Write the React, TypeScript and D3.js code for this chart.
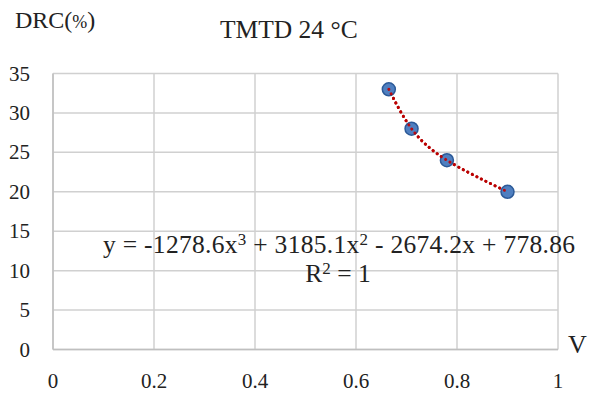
import React from "react";
import * as d3 from "d3";

const xValues = [0.665, 0.71, 0.78, 0.9];
const yValues = [33, 28, 24, 20];
const xTicks = [0, 0.2, 0.4, 0.6, 0.8, 1];
const yTicks = [0, 5, 10, 15, 20, 25, 30, 35];

const W = 598;
const H = 394;
const FONT = "Liberation Serif";

export default function App() {
  const x = d3.scaleLinear().domain([0, 1]).range([53, 558]);
  const y = d3.scaleLinear().domain([0, 35]).range([349.5, 73.5]);
  const pts = xValues.map((v, i) => [v, yValues[i]] as [number, number]);
  const line = d3
    .line<[number, number]>()
    .x((d) => x(d[0]))
    .y((d) => y(d[1]))
    .curve(d3.curveNatural);

  return (
    <svg width={W} height={H} style={{ position: "absolute", left: 0, top: 0, background: "#fff" }}>
      <rect width={W} height={H} fill="#fff" />
      {yTicks.map((t) => (
        <line key={"h" + t} x1={x(0)} x2={x(1)} y1={y(t)} y2={y(t)} stroke="#d0d0d0" strokeWidth={1.5} />
      ))}
      {xTicks.map((t) => (
        <line key={"v" + t} x1={x(t)} x2={x(t)} y1={y(0)} y2={y(35)} stroke="#d0d0d0" strokeWidth={1.5} />
      ))}
      <line x1={x(0)} x2={x(1)} y1={y(0)} y2={y(0)} stroke="#bfbfbf" strokeWidth={1.5} />
      <line x1={x(0)} x2={x(0)} y1={y(0)} y2={y(35)} stroke="#bfbfbf" strokeWidth={1.5} />
      {yTicks.map((t) => (
        <text key={"yl" + t} x={30} y={y(t) + 7} textAnchor="end" fontFamily={FONT} fontSize={21} fill="#222">
          {t}
        </text>
      ))}
      {xTicks.map((t) => (
        <text key={"xl" + t} x={x(t)} y={388} textAnchor="middle" fontFamily={FONT} fontSize={21} fill="#222">
          {t}
        </text>
      ))}
      <path d={line(pts) || ""} fill="none" stroke="#a00000" strokeWidth={3} strokeDasharray="0.1 5" strokeLinecap="round" />
      {pts.map((p, i) => (
        <circle key={"c" + i} cx={x(p[0])} cy={y(p[1])} r={6.5} fill="#4f7fc0" stroke="#2c5a98" strokeWidth={1.5} />
      ))}
      <path d={line(pts) || ""} fill="none" stroke="#c00000" strokeWidth={3} strokeDasharray="0.1 5" strokeLinecap="round" opacity={0.9} />
      <text x={15} y={28} fontFamily={FONT} fontSize={24} fill="#222">
        DRC(<tspan fontSize={18}>%</tspan>)
      </text>
      <text x={220} y={38} fontFamily={FONT} fontSize={25.5} fill="#222">
        TMTD 24 °C
      </text>
      <text x={568} y={353} fontFamily={FONT} fontSize={26} fill="#222">
        V
      </text>
      <text x={339} y={253} textAnchor="middle" fontFamily={FONT} fontSize={25.5} fill="#222" textLength={472} lengthAdjust="spacing">
        y = -1278.6x<tspan dy={-8} fontSize={17}>3</tspan>
        <tspan dy={8}> + 3185.1x</tspan>
        <tspan dy={-8} fontSize={17}>2</tspan>
        <tspan dy={8}> - 2674.2x + 778.86</tspan>
      </text>
      <text x={338} y={282} textAnchor="middle" fontFamily={FONT} fontSize={25.5} fill="#222">
        R<tspan dy={-8} fontSize={17}>2</tspan>
        <tspan dy={8}> = 1</tspan>
      </text>
    </svg>
  );
}
